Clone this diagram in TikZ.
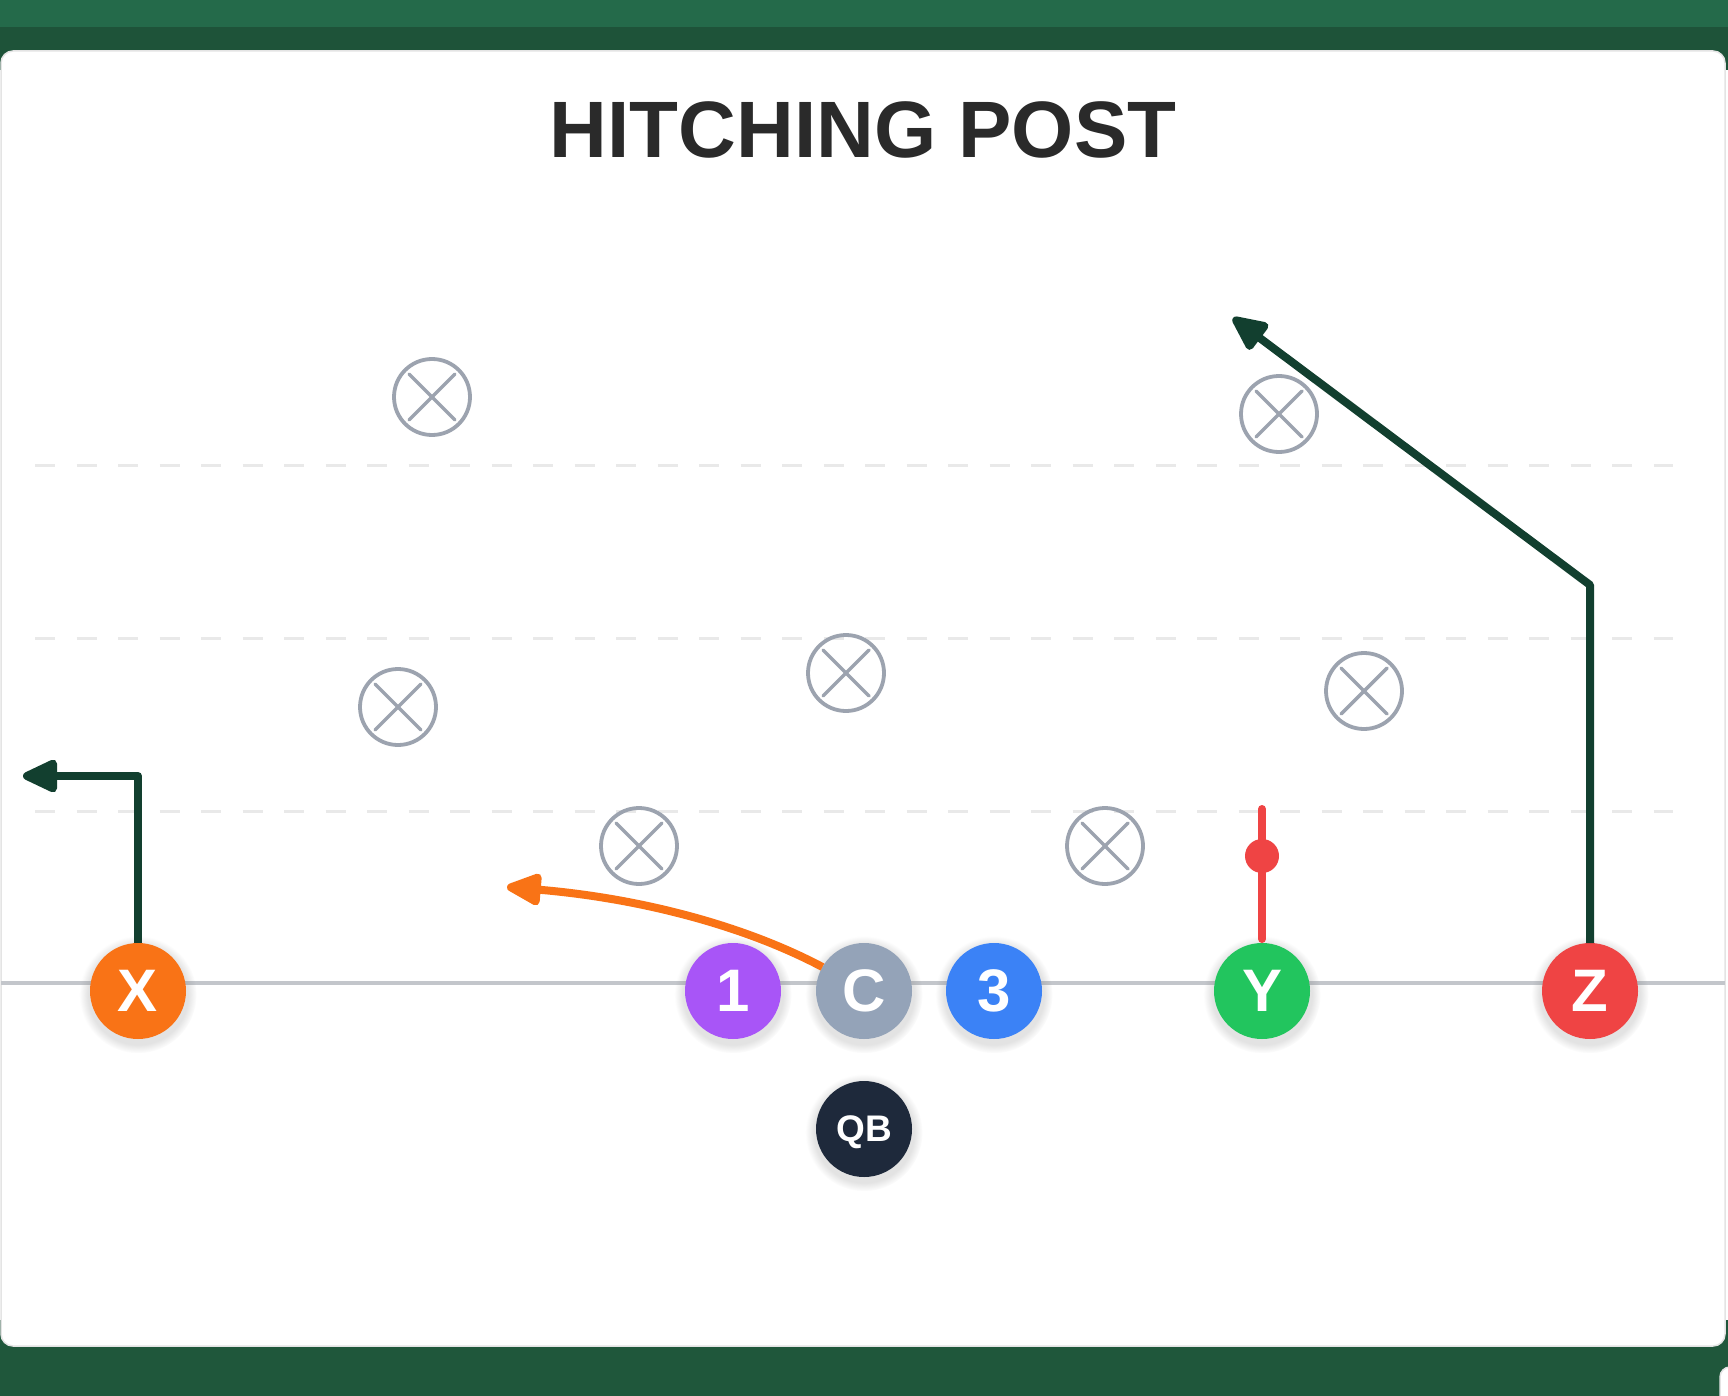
\documentclass[tikz,border=0pt]{standalone}
\usepackage{fontspec}
\newfontfamily\hfont{Liberation Sans}
\usetikzlibrary{arrows.meta,shadows}
\definecolor{topgreen}{HTML}{246A4A}
\definecolor{bandgreen}{HTML}{1E5339}
\definecolor{botgreen}{HTML}{1F573B}
\definecolor{cardedge}{HTML}{E4E4E4}
\definecolor{routegreen}{HTML}{123F2F}
\definecolor{titlegray}{HTML}{2A2A2A}
\definecolor{defgray}{HTML}{9CA3AF}
\definecolor{losgray}{HTML}{C3C6CB}
\definecolor{dashgray}{HTML}{E9E9E9}
\definecolor{cX}{HTML}{F97316}
\definecolor{cOne}{HTML}{A855F7}
\definecolor{cC}{HTML}{94A3B8}
\definecolor{cThree}{HTML}{3B82F6}
\definecolor{cY}{HTML}{22C55E}
\definecolor{cZ}{HTML}{EF4444}
\definecolor{cQB}{HTML}{1E293B}
\begin{document}
\begin{tikzpicture}[x=1pt,y=-1pt,
  player/.style={circle,minimum size=96pt,inner sep=0pt,outer sep=0pt,text=white,
    text depth=0pt,
    font=\hfont\bfseries\fontsize{60}{60}\selectfont,
    circular drop shadow={shadow xshift=0pt,shadow yshift=-3pt,shadow scale=1.22,opacity=0.22}},
  defender/.style={circle,draw=defgray,line width=3.8pt,minimum size=76pt,inner sep=0pt,outer sep=0pt},
  defx/.style={draw=defgray,line width=3.5pt,line cap=round},
  route/.style={draw=routegreen,line width=8pt,line join=round},
  yard/.style={draw=dashgray,line width=3pt,dash pattern=on 20pt off 21.5pt},
  greentip/.style={-{Triangle[length=40pt,width=35pt,round]}}
]
\useasboundingbox (0,0) rectangle (1728,1396);
% background bands
\fill[topgreen] (0,0) rectangle (1728,27);
\fill[bandgreen] (0,27) rectangle (1728,70);
\fill[botgreen] (0,1320) rectangle (1728,1396);
\filldraw[fill=white,draw=cardedge,line width=1.5pt,rounded corners=12pt] (1,51) rectangle (1725,1346);
\filldraw[fill=white,draw=cardedge,line width=1.5pt,rounded corners=10pt] (1720,1367) rectangle (1745,1420);
% title
\node[anchor=base,text=titlegray,font=\hfont\bfseries\fontsize{80}{80}\selectfont,inner sep=0pt] (title) at (863,158) {HITCHING POST};
% yard lines
\foreach \yy/\nm in {465/ya,638/yb,811/yc}{
  \coordinate (\nm l) at (35,\yy);
  \coordinate (\nm r) at (1673,\yy);
  \draw[yard] (\nm l) -- (\nm r);
}
% line of scrimmage
\coordinate (losl) at (1,983);
\coordinate (losr) at (1725,983);
\draw[losgray,line width=3.2pt] (losl) -- (losr);
% defenders
\foreach \n/\px/\py in {d1/432/397,d2/1279/414,d3/398/707,d4/846/673,d5/1364/691,d6/639/846,d7/1105/846}{
  \node[defender] (\n) at (\px,\py) {};
  \draw[defx] (\n.center) +(-23,-23) -- +(23,23);
  \draw[defx] (\n.center) +(-23,23) -- +(23,-23);
}
% route coordinates
\coordinate (xcorner) at (138,776);
\coordinate (xend) at (23,776);
\coordinate (zcorner) at (1590,585);
\coordinate (zend) at (1233,318);
\coordinate (ytop) at (1262,809);
\coordinate (oend) at (507,887);
% players
\node[player,fill=cX] (X) at (138,991) {X};
\node[player,fill=cOne] (P1) at (733,991) {1};
\node[player,fill=cC] (C) at (864,991) {C};
\node[player,fill=cThree] (P3) at (994,991) {3};
\node[player,fill=cY] (Y) at (1262,991) {Y};
\node[player,fill=cZ] (Z) at (1590,991) {Z};
\node[player,fill=cQB,font=\hfont\bfseries\fontsize{37}{37}\selectfont] (QB) at (864,1129) {QB};
% routes
\draw[route,greentip] (X.north) -- (xcorner) -- (xend);
\draw[route,greentip] (Z.north) -- (zcorner) -- (zend);
\draw[draw=cZ,line width=8pt,line cap=round] (Y.north) ++(0,-4) -- (ytop);
\node[circle,fill=cZ,minimum size=34pt,inner sep=0pt] (ydot) at (1262,856) {};
\draw[draw=cX,line width=8pt,-{Triangle[length=40pt,width=34pt,round]}]
  (C.150) .. controls (741.7,924.3) and (637,898) .. (oend);
\end{tikzpicture}
\end{document}
